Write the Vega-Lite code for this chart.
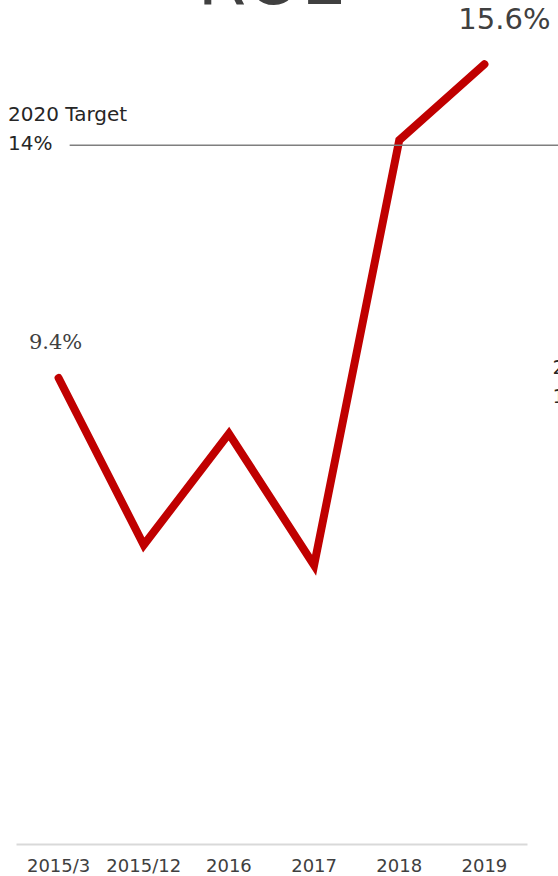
{
  "$schema": "https://vega.github.io/schema/vega-lite/v6.json",
  "autosize": "none",
  "width": 511,
  "height": 844,
  "padding": {"left": 16, "top": 0, "right": 31, "bottom": 32},
  "background": "white",
  "title": {"text": "ROE", "fontSize": 70, "font": "DejaVu Sans", "color": "#404040", "fontWeight": "normal", "anchor": "middle", "frame": "group", "offset": -89, "baseline": "bottom"},
  "config": {
    "view": {"stroke": null},
    "font": "DejaVu Sans",
    "axis": {"domainColor": "#d9d9d9", "domainWidth": 2, "ticks": false, "grid": false, "labelFontSize": 18, "labelColor": "#404040", "labelPadding": 13, "labelAngle": 0, "title": null, "labelFont": "DejaVu Sans"}
  },
  "datasets": {
    "roe": [
      {"period": "2015/3", "roe": 9.4, "label": "9.4%"},
      {"period": "2015/12", "roe": 6.1, "label": "6.1%"},
      {"period": "2016", "roe": 8.3, "label": "8.3%"},
      {"period": "2017", "roe": 5.7, "label": "5.7%"},
      {"period": "2018", "roe": 14.1, "label": "14.1%"},
      {"period": "2019", "roe": 15.6, "label": "15.6%"}
    ],
    "target": [{"start": 0.13, "end": 5.9, "roe": 14, "label": "2020 Target\n14%"}],
    "nextTarget": [{"period": "2019", "roe": 9.6, "label": "2020 Target\n12%"}]
  },
  "resolve": {"scale": {"x": "independent"}},
  "layer": [
    {
      "encoding": {
        "x": {"field": "period", "type": "ordinal", "scale": {"type": "band", "domain": ["2015/3", "2015/12", "2016", "2017", "2018", "2019"], "paddingInner": 0, "paddingOuter": 0}},
        "y": {"field": "roe", "type": "quantitative", "scale": {"domain": [0.19, 16.87], "nice": false, "zero": false}, "axis": null}
      },
      "layer": [
        {
          "data": {"name": "nextTarget"},
          "mark": {"type": "text", "align": "left", "baseline": "middle", "dx": 68, "dy": 0, "fontSize": 20, "lineHeight": 29, "lineBreak": "\n", "color": "#262626"},
          "encoding": {"text": {"field": "label"}}
        },
        {
          "data": {"name": "roe"},
          "mark": {"type": "line", "color": "#C00000", "strokeWidth": 8, "strokeCap": "round"},
          "encoding": {}
        },
        {
          "data": {"name": "roe"},
          "transform": [{"filter": "datum.period === '2015/3'"}],
          "mark": {"type": "text", "align": "center", "baseline": "middle", "dx": -3, "dy": -35, "fontSize": 21, "color": "#404040", "font": "DejaVu Serif"},
          "encoding": {"text": {"field": "label"}}
        },
        {
          "data": {"name": "roe"},
          "transform": [{"filter": "datum.period === '2019'"}],
          "mark": {"type": "text", "align": "center", "baseline": "middle", "dx": 20, "dy": -44, "fontSize": 29, "color": "#404040"},
          "encoding": {"text": {"field": "label"}}
        }
      ]
    },
    {
      "data": {"name": "target"},
      "encoding": {
        "y": {"field": "roe", "type": "quantitative", "scale": {"domain": [0.19, 16.87], "nice": false, "zero": false}, "axis": null}
      },
      "layer": [
        {
          "mark": {"type": "rule", "color": "#7f7f7f", "strokeWidth": 1.5},
          "encoding": {
            "x": {"field": "start", "type": "quantitative", "scale": {"domain": [-0.5, 5.5], "nice": false, "zero": false}, "axis": null},
            "x2": {"field": "end"}
          }
        },
        {
          "mark": {"type": "text", "align": "left", "baseline": "middle", "dx": -8, "dy": -30, "fontSize": 20, "lineHeight": 29, "lineBreak": "\n", "color": "#262626"},
          "encoding": {
            "x": {"datum": -0.5, "type": "quantitative", "scale": {"domain": [-0.5, 5.5], "nice": false, "zero": false}, "axis": null},
            "text": {"field": "label"}
          }
        }
      ]
    }
  ]
}
